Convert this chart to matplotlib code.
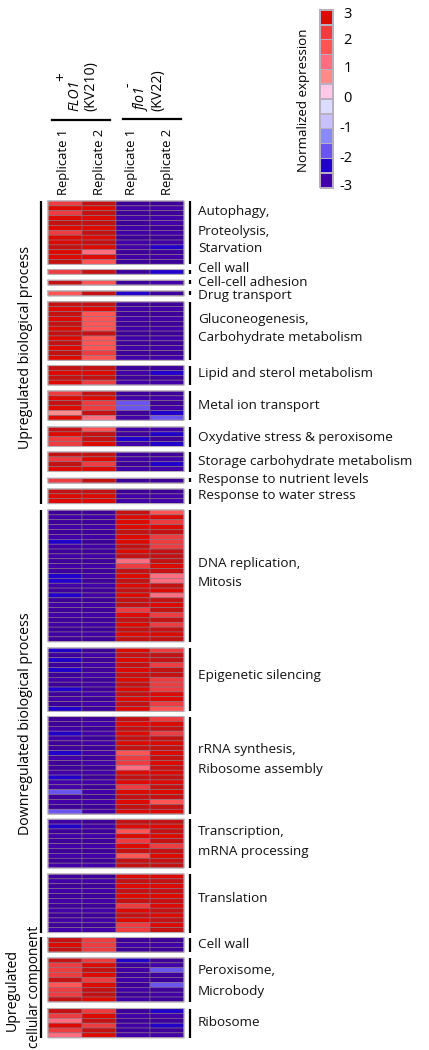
import matplotlib
matplotlib.use('Agg')
import matplotlib.pyplot as plt
from matplotlib.colors import ListedColormap, BoundaryNorm
import numpy as np

plt.rcParams['font.family'] = ['Open Sans', 'DejaVu Sans']

# normalized expression, one row of 4 columns per gene (FLO1 rep 1, 2, flo1 rep 1, 2)
autophagy = [[2.2, 3.2, -3.2, -3.2], [2.8, 2.8, -2.8, -2.8], [2.2, 3.2, -3.2, -3.2], [2.8, 2.8, -2.8, -2.8],
             [3.2, 3.2, -3.2, -2.8], [2.8, 2.8, -2.8, -3.2], [2.2, 3.2, -2.8, -2.8], [2.8, 2.8, -3.2, -3.2],
             [2.8, 3.2, -2.8, -2.8], [3.2, 2.8, -2.8, -2.2], [2.8, 1.2, -3.2, -3.2], [2.8, 2.8, -2.8, -2.8],
             [3.2, 1.8, -3.2, -3.2]]
cell_wall = [[2.2, 3.2, -3.2, -2.2]]
adhesion = [[3.2, 1.8, -3.2, -2.8]]
drug = [[1.8, 3.2, -2.2, -3.2]]
glucose = [[3.2, 3.2, -3.2, -3.2], [2.8, 2.8, -2.8, -2.8], [3.2, 1.8, -3.2, -3.2], [2.8, 1.8, -2.8, -2.8],
           [3.2, 1.8, -3.2, -3.2], [2.8, 1.8, -2.8, -2.8], [3.2, 3.2, -3.2, -3.2], [2.8, 1.8, -2.8, -2.8],
           [3.2, 1.8, -3.2, -3.2], [2.8, 1.8, -2.8, -2.8], [3.2, 2.2, -3.2, -3.2], [2.8, 1.8, -2.8, -2.8]]
lipid = [[3.2, 3.2, -3.2, -3.2], [2.8, 2.8, -2.8, -2.2], [3.2, 3.2, -3.2, -3.2], [2.8, 2.2, -2.8, -2.8]]
metal = [[2.2, 3.2, -3.2, -3.2], [2.8, 2.8, -2.8, -2.8], [3.2, 2.2, -1.8, -3.2], [2.8, 2.2, -1.8, -2.8],
         [0.8, 3.2, -3.2, -2.2], [2.8, 1.2, -2.8, -1.8]]
oxidative = [[3.2, 1.8, -2.8, -2.8], [2.8, 3.2, -3.2, -2.2], [2.2, 3.2, -2.2, -3.2], [2.2, 2.8, -2.8, -2.2]]
storage = [[3.2, 3.2, -3.2, -3.2], [2.2, 2.8, -2.8, -2.8], [3.2, 2.2, -3.2, -2.2], [2.8, 2.8, -2.8, -2.8]]
nutrient = [[2.2, 3.2, -3.2, -3.2]]
water = [[3.2, 3.2, -3.2, -3.2], [2.8, 2.8, -2.8, -2.8], [2.8, 2.8, -2.8, -2.8]]
dna = [[-3.2, -3.2, 3.2, 1.8], [-2.8, -2.8, 2.8, 2.8], [-3.2, -3.2, 2.8, 2.2], [-2.8, -2.8, 2.8, 2.8],
       [-3.2, -3.2, 3.2, 3.2], [-2.8, -2.8, 2.8, 2.2], [-2.2, -3.2, 2.8, 2.2], [-2.8, -2.8, 3.2, 2.2],
       [-3.2, -3.2, 2.8, 3.2], [-2.8, -2.8, 3.2, 3.2], [-3.2, -3.2, 1.2, 3.2], [-2.8, -2.8, 2.2, 2.8],
       [-3.2, -3.2, 3.2, 3.2], [-2.2, -2.8, 2.8, 1.2], [-2.2, -3.2, 3.2, 1.2], [-2.8, -2.8, 2.8, 3.2],
       [-3.2, -3.2, 3.2, 2.8], [-2.2, -2.8, 2.8, 1.2], [-3.2, -3.2, 3.2, 3.2], [-2.8, -2.8, 3.2, 2.8],
       [-3.2, -3.2, 2.2, 3.2], [-2.8, -2.8, 2.8, 2.2], [-3.2, -3.2, 3.2, 3.2], [-2.8, -2.8, 2.8, 2.2],
       [-3.2, -3.2, 3.2, 3.2], [-2.8, -2.8, 2.8, 2.8], [-3.2, -3.2, 3.2, 3.2]]
silencing = [[-2.2, -3.2, 2.8, 2.2], [-3.2, -2.8, 3.2, 3.2], [-2.2, -3.2, 2.8, 3.2], [-3.2, -2.8, 3.2, 2.2],
             [-2.2, -3.2, 2.8, 3.2], [-3.2, -2.8, 3.2, 3.2], [-2.8, -3.2, 2.8, 2.2], [-3.2, -2.8, 3.2, 2.2],
             [-2.2, -3.2, 2.8, 2.2], [-3.2, -2.8, 3.2, 2.8], [-2.8, -3.2, 2.8, 2.8], [-3.2, -2.8, 3.2, 2.2],
             [-2.2, -3.2, 2.8, 1.8]]
rrna = [[-3.2, -3.2, 3.2, 2.2], [-3.2, -2.8, 2.8, 2.8], [-2.8, -3.2, 3.2, 3.2], [-2.2, -2.8, 2.8, 2.2],
        [-2.8, -3.2, 3.2, 3.2], [-3.2, -2.8, 2.8, 2.8], [-3.2, -3.2, 3.2, 3.2], [-2.2, -2.8, 1.8, 2.8],
        [-2.8, -3.2, 2.2, 3.2], [-3.2, -2.8, 2.2, 2.8], [-3.2, -3.2, 1.2, 3.2], [-2.8, -2.8, 2.8, 2.8],
        [-2.2, -3.2, 3.2, 3.2], [-2.8, -2.8, 2.8, 2.8], [-2.8, -3.2, 2.2, 3.2], [-1.8, -2.8, 2.8, 2.8],
        [-3.2, -3.2, 3.2, 3.2], [-2.8, -2.8, 2.8, 1.8], [-3.2, -3.2, 3.2, 3.2], [-1.8, -2.8, 2.8, 2.8]]
transcription = [[-2.8, -3.2, 3.2, 3.2], [-2.2, -2.8, 2.8, 2.8], [-3.2, -3.2, 1.8, 3.2], [-2.8, -2.8, 2.8, 2.8],
                 [-3.2, -3.2, 2.2, 3.2], [-2.8, -2.8, 2.8, 2.2], [-3.2, -3.2, 3.2, 3.2], [-2.8, -2.8, 1.8, 2.8],
                 [-3.2, -3.2, 3.2, 3.2], [-2.8, -2.8, 3.2, 3.2]]
translation = [[-3.2, -3.2, 2.8, 2.8], [-2.8, -2.8, 3.2, 3.2], [-3.2, -3.2, 2.8, 2.8], [-2.8, -2.8, 3.2, 3.2],
               [-3.2, -3.2, 2.8, 2.8], [-2.8, -2.8, 3.2, 3.2], [-3.2, -3.2, 2.2, 2.8], [-2.8, -2.8, 2.8, 3.2],
               [-3.2, -3.2, 3.2, 2.8], [-2.8, -2.8, 2.8, 3.2], [-3.2, -3.2, 2.2, 2.8], [-2.8, -2.8, 2.2, 3.2]]
cc_wall = [[3.2, 2.2, -3.2, -3.2], [2.8, 2.2, -2.8, -2.8], [3.2, 2.2, -3.2, -3.2]]
peroxisome = [[3.2, 2.2, -2.2, -3.2], [2.2, 2.8, -3.2, -2.8], [2.2, 3.2, -2.8, -1.8], [2.2, 2.8, -3.2, -3.2],
              [3.2, 2.2, -2.8, -3.2], [1.8, 2.8, -3.2, -1.8], [2.2, 3.2, -2.8, -3.2], [2.2, 3.2, -3.2, -2.8],
              [3.2, 2.8, -2.8, -3.2]]
ribosome = [[3.2, 2.2, -3.2, -2.2], [2.2, 2.8, -2.8, -2.8], [1.2, 3.2, -3.2, -3.2], [2.8, 2.2, -2.8, -2.2],
            [2.2, 3.2, -3.2, -3.2], [1.2, 2.8, -2.8, -2.8]]

blocks = [autophagy, cell_wall, adhesion, drug, glucose, lipid, metal, oxidative, storage, nutrient, water,
          dna, silencing, rrna, transcription, translation, cc_wall, peroxisome, ribosome]

term_labels = ['Autophagy,', 'Proteolysis,', 'Starvation', 'Cell wall', 'Cell-cell adhesion', 'Drug transport',
               'Gluconeogenesis,', 'Carbohydrate metabolism', 'Lipid and sterol metabolism', 'Metal ion transport',
               'Oxydative stress & peroxisome', 'Storage carbohydrate metabolism', 'Response to nutrient levels',
               'Response to water stress', 'DNA replication,', 'Mitosis', 'Epigenetic silencing', 'rRNA synthesis,',
               'Ribosome assembly', 'Transcription,', 'mRNA processing', 'Translation', 'Cell wall', 'Peroxisome,',
               'Microbody', 'Ribosome']
replicates = ['Replicate 1', 'Replicate 2', 'Replicate 1', 'Replicate 2']
scale_colors = ['#4200A8', '#2200CC', '#6A55EE', '#8A8AFF', '#C8C0FF', '#DCDCFF',
                '#FFC8E6', '#FF8A8A', '#FF6E80', '#FF5555', '#EE3D40', '#DD0A00']
scale_ticks = ['3', '2', '1', '0', '-1', '-2', '-3']

# layout, in pixels of the 429x1050 picture
block_tops = [201, 269.5, 280.2, 291, 301.8, 365.5, 391, 427, 452, 478.2, 489,
              510, 648, 716.5, 819.2, 874, 937.5, 958, 1008.5]
row_h = 4.88
col_x = np.array([48, 82, 116, 150, 184])
term_y = [212, 231, 248, 269, 283, 296, 320, 337, 374, 406, 437, 462, 479, 496,
          563, 582, 676, 750, 769, 832, 851, 898, 944, 971, 991, 1022]
rep_x = [63, 99, 132, 167]
tick_y = [14, 40, 69, 99, 128, 158, 186]

cmap = ListedColormap(scale_colors)
cmap.set_over('#C41212')
cmap.set_under('#3E009A')
norm = BoundaryNorm(np.arange(-3, 3.5, 0.5), cmap.N)

fig = plt.figure(figsize=(4.29, 10.5), dpi=100)
ax = fig.add_axes([0, 0, 1, 1])
ax.set_xlim(0, 429)
ax.set_ylim(1050, 0)
ax.axis('off')

for top, block in zip(block_tops, blocks):
    vals = np.array(block)
    y_edges = top + row_h * np.arange(len(vals) + 1)
    mesh = ax.pcolormesh(col_x, y_edges, vals, cmap=cmap, norm=norm, edgecolors='#86707F', linewidth=0.4,
                         antialiased=True)
    mesh.set_snap(False)
    ax.plot([48, 184, 184, 48, 48], [top, top, y_edges[-1], y_edges[-1], top], color='#B4ADB4', lw=0.8, snap=False)
    ax.plot([190, 190], [top, y_edges[-1] if len(vals) > 1 else top + 4], color='black', lw=1.6,
            solid_capstyle='butt')

for y, label in zip(term_y, term_labels):
    ax.text(198, y, label, fontsize=9.7, va='center', ha='left', color='#111111')

# brackets for the biological groups
for y0, y1 in [(201, 504), (510, 933), (937, 1038)]:
    ax.plot([41, 41], [y0, y1], color='black', lw=1.6, solid_capstyle='butt')

ax.text(26, 347, 'Upregulated biological process', rotation=90, fontsize=10.2, ha='center', va='center')
ax.text(26, 724, 'Downregulated biological process', rotation=90, fontsize=10.2, ha='center', va='center')
ax.text(12, 990, 'Upregulated', rotation=90, fontsize=10.2, ha='center', va='center')
ax.text(34, 987, 'cellular component', rotation=90, fontsize=9.8, ha='center', va='center')

# column headers
for x, label in zip(rep_x, replicates):
    ax.text(x, 195, label, rotation=90, fontsize=9.4, ha='center', va='bottom')
ax.plot([52, 110], [120, 120], color='black', lw=1.6)
ax.plot([123, 181], [119, 119], color='black', lw=1.6)
ax.text(75, 111, 'FLO1', rotation=90, fontsize=10.2, style='italic', ha='center', va='bottom')
ax.text(62, 81, '+', rotation=90, fontsize=11, ha='center', va='bottom')
ax.text(91, 111, '(KV210)', rotation=90, fontsize=10.2, ha='center', va='bottom')
ax.text(142, 111, 'flo1', rotation=90, fontsize=10.2, style='italic', ha='center', va='bottom')
ax.text(128, 87, '-', rotation=90, fontsize=10, ha='center', va='bottom')
ax.text(158, 111, '(KV22)', rotation=90, fontsize=10.2, ha='center', va='bottom')

# colour scale
scale_vals = np.arange(-2.75, 3, 0.5).reshape(-1, 1)
scale_edges = np.linspace(188, 10, len(scale_vals) + 1)
mesh = ax.pcolormesh([320, 333], scale_edges, scale_vals, cmap=cmap, norm=norm, edgecolors='#B8B0C0', linewidth=0.4)
mesh.set_snap(False)
for y, label in zip(tick_y, scale_ticks):
    ax.text(352, y, label, fontsize=10.5, ha='right', va='center')
ax.text(304, 100, 'Normalized expression', rotation=90, fontsize=9.6, ha='center', va='center')

fig.savefig('out.png', dpi=100)
